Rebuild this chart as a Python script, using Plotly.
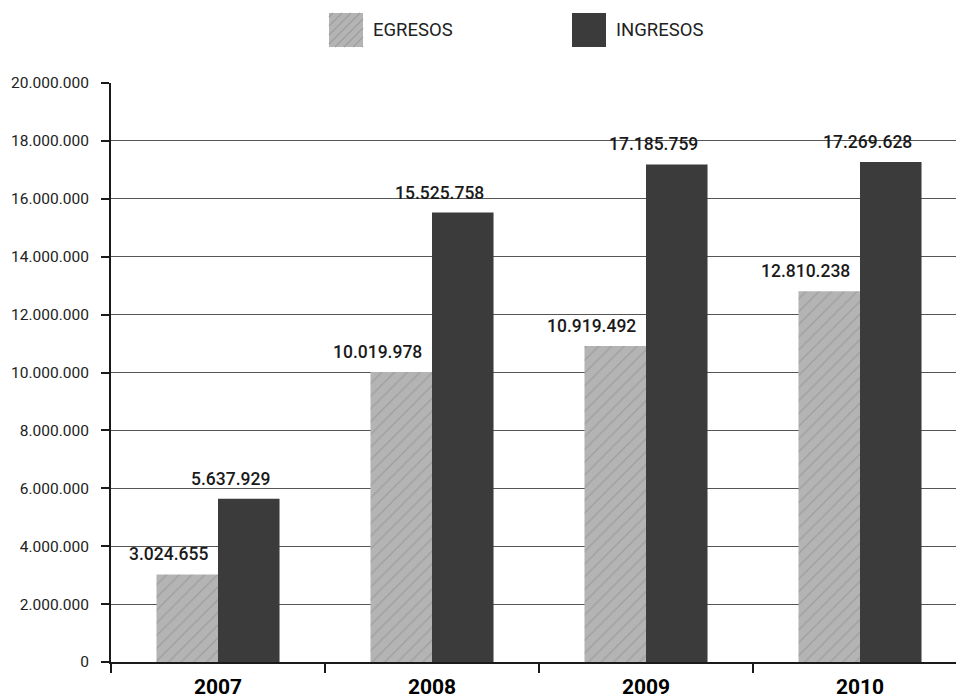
import plotly.graph_objects as go

# --- data -------------------------------------------------------------
years = ["2007", "2008", "2009", "2010"]
egresos = [3024655, 10019978, 10919492, 12810238]
ingresos = [5637929, 15525758, 17185759, 17269628]
series_names = ["EGRESOS", "INGRESOS"]
y_tick_values = [0, 2000000, 4000000, 6000000, 8000000, 10000000,
                 12000000, 14000000, 16000000, 18000000, 20000000]


def fmt(v):
    return f"{v:,}".replace(",", ".")


y_tick_labels = [fmt(v) for v in y_tick_values]

# --- layout constants ---------------------------------------------------
W, H = 956, 699
M_L, M_R, M_T, M_B = 111, 0, 83, 37
PLOT_W = W - M_L - M_R
PLOT_H = H - M_T - M_B
CAT_PX = 214                       # width of one year slot in pixels
BARGAP = 0.425
HALF = (1 - BARGAP) / 2            # width of a single bar in category units

FONT = "Roboto"
TEXT = "#1a1a1a"
HATCH_BG = "#b4b4b4"
HATCH_FG = "#9e9e9e"
DARK = "#3b3b3b"

fig = go.Figure()
fig.add_trace(go.Bar(
    x=years, y=egresos, name=series_names[0],
    marker=dict(color=HATCH_BG, line=dict(width=0),
                pattern=dict(shape="/", bgcolor=HATCH_BG, fgcolor=HATCH_FG,
                             size=9, solidity=0.14, fillmode="replace")),
    showlegend=False, hoverinfo="skip",
))
fig.add_trace(go.Bar(
    x=years, y=ingresos, name=series_names[1],
    marker=dict(color=DARK, line=dict(width=0)),
    showlegend=False, hoverinfo="skip",
))

# value labels, right-aligned just inside the right edge of each bar
annotations = []
for i, (e, g) in enumerate(zip(egresos, ingresos)):
    for right_edge, val in ((i, e), (i + HALF, g)):
        annotations.append(dict(
            x=right_edge, y=val, xref="x", yref="y",
            text=fmt(val), showarrow=False,
            xanchor="right", yanchor="bottom", xshift=-8, yshift=8,
            font=dict(family=FONT, size=17.5, color=TEXT, weight=500),
        ))


def px_to_paper(px, py):
    return (px - M_L) / PLOT_W, (H - M_B - py) / PLOT_H


# legend drawn as swatches with labels above the plot
shapes = []
sw = 34
legend_items = [(329, 13, series_names[0], True), (572, 13, series_names[1], False)]
for lx, ly, label, hatched in legend_items:
    x0, y1 = px_to_paper(lx, ly)
    x1, y0 = px_to_paper(lx + sw, ly + sw)
    shapes.append(dict(type="rect", xref="paper", yref="paper",
                       x0=x0, x1=x1, y0=y0, y1=y1,
                       fillcolor=HATCH_BG if hatched else DARK,
                       line=dict(width=0), layer="above"))
    if hatched:
        step = 9
        for c in range(-sw + step // 2, sw, step):
            # segment of the line (x - lx) - (ly + sw - y) = c, clipped to the square
            ax0 = max(0, c)
            ax1 = min(sw, sw + c)
            if ax1 <= ax0:
                continue
            p0 = px_to_paper(lx + ax0, ly + sw - (ax0 - c))
            p1 = px_to_paper(lx + ax1, ly + sw - (ax1 - c))
            shapes.append(dict(type="line", xref="paper", yref="paper",
                               x0=p0[0], y0=p0[1], x1=p1[0], y1=p1[1],
                               line=dict(color=HATCH_FG, width=1.3), layer="above"))
    tx, ty = px_to_paper(lx + sw + 8, ly + sw / 2)
    annotations.append(dict(x=tx, y=ty, xref="paper", yref="paper",
                            text=label, showarrow=False,
                            xanchor="left", yanchor="middle",
                            font=dict(family=FONT, size=18.5, color="#222222")))

fig.update_layout(
    width=W, height=H,
    margin=dict(l=M_L, r=M_R, t=M_T, b=M_B, pad=0),
    paper_bgcolor="white", plot_bgcolor="white",
    barmode="group", bargap=BARGAP, bargroupgap=0,
    showlegend=False,
    font=dict(family=FONT, color=TEXT),
    annotations=annotations,
    shapes=shapes,
)
fig.update_xaxes(
    type="category",
    range=[-0.5, -0.5 + PLOT_W / CAT_PX],
    showline=True, linecolor=TEXT, linewidth=2,
    ticks="outside", tickson="boundaries", ticklen=9, tickwidth=2, tickcolor=TEXT,
    ticklabelstandoff=5,
    showgrid=False, zeroline=False,
    tickfont=dict(family=FONT, size=21, color="#000000", weight="bold"),
)
fig.update_yaxes(
    range=[0, 20000000],
    tickvals=y_tick_values, ticktext=y_tick_labels,
    showline=True, linecolor=TEXT, linewidth=2,
    ticks="outside", ticklen=8, tickwidth=2, tickcolor=TEXT,
    ticklabelstandoff=9,
    showgrid=True, gridcolor="#555555", gridwidth=1.3,
    zeroline=False,
    tickfont=dict(family=FONT, size=15.5, color="#222222"),
)

fig.write_html("out.html")
